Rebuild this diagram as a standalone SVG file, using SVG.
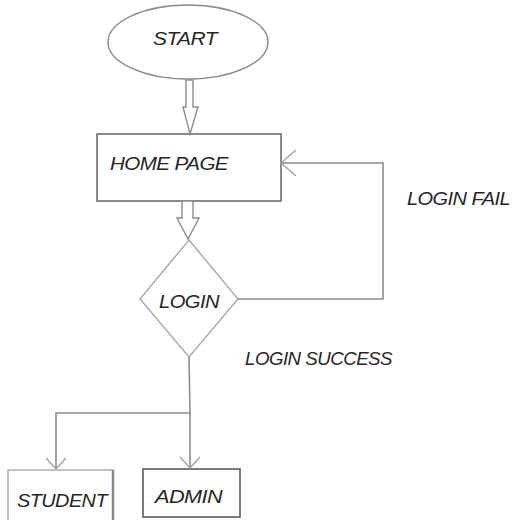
<svg xmlns="http://www.w3.org/2000/svg" width="512" height="520" viewBox="0 0 512 520">
<defs>
<style>
text{font-family:"Liberation Sans",Arial,sans-serif;font-style:italic;font-size:18px;fill:#262626;letter-spacing:-0.5px}
.ln{fill:none;stroke:#8c8c8c;stroke-width:1.6}
.blk{fill:#fff;stroke:#8c8c8c;stroke-width:1.4}
.hd{fill:none;stroke:#a0a0a0;stroke-width:1.3}
</style>
</defs>
<rect width="512" height="520" fill="#fff"/>
<g id="start">
<ellipse cx="188" cy="42" rx="80" ry="37" fill="#fff" stroke="#8c8c8c" stroke-width="1.4"/>
<text x="153" y="45" textLength="64" lengthAdjust="spacingAndGlyphs">START</text>
</g>
<g id="home">
<rect x="97" y="134" width="184" height="67" fill="#fff" stroke="#6e6e6e" stroke-width="1.6"/>
<text x="110" y="170" textLength="118" lengthAdjust="spacingAndGlyphs">HOME PAGE</text>
</g>
<g id="login">
<polygon points="189,240 238,299 189,357 140,299" fill="#fff" stroke="#a8a8a8" stroke-width="1.4"/>
<text x="159" y="308" textLength="60" lengthAdjust="spacingAndGlyphs">LOGIN</text>
</g>
<g id="student">
<rect x="8" y="470" width="105" height="60" fill="#fff" stroke="#a8a8a8" stroke-width="1.4"/>
<line x1="113" y1="470" x2="113" y2="520" stroke="#8a8a8a" stroke-width="2.5"/>
<text x="17" y="507" textLength="90" lengthAdjust="spacingAndGlyphs">STUDENT</text>
</g>
<g id="admin">
<rect x="143" y="469" width="97" height="48" fill="#fff" stroke="#6e6e6e" stroke-width="1.8"/>
<text x="155" y="503" textLength="67" lengthAdjust="spacingAndGlyphs">ADMIN</text>
</g>
<g id="connectors">
<polygon class="blk" points="186,80 193,80 193,107 198,107 190,134 183,107 186,107"/>
<polygon class="blk" points="182,201 193,201 193,218 199,218 188,239 177,218 182,218"/>
<polyline class="ln" points="238,299 383,299 383,163 281,163"/>
<path class="hd" d="M296,150 L281,163 L296,176"/>
<polyline class="ln" points="189,357 190,413"/>
<polyline class="ln" points="190,413 56,413 56,469"/>
<line class="ln" x1="190" y1="413" x2="190" y2="468"/>
<path class="hd" d="M46,458 L56,469 L66,458 M180,457 L190,468 L200,457"/>
</g>
<g id="labels">
<text x="407" y="205" textLength="103" lengthAdjust="spacingAndGlyphs">LOGIN FAIL</text>
<text x="245" y="365" textLength="147" lengthAdjust="spacingAndGlyphs">LOGIN SUCCESS</text>
</g>
</svg>
